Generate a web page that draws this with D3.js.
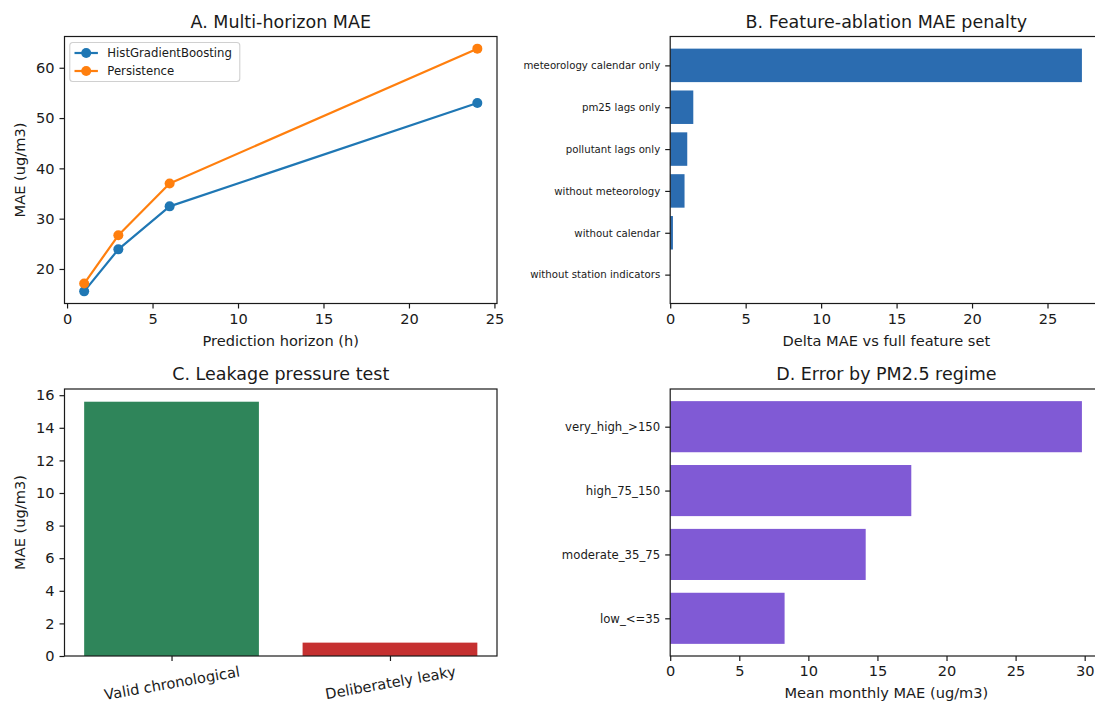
<!DOCTYPE html>
<html>
<head>
<meta charset="utf-8">
<script src="https://cdn.jsdelivr.net/npm/d3@7"></script>
<style>
  html, body { margin: 0; padding: 0; background: #ffffff; overflow: hidden; }
  svg { display: block; font-family: "DejaVu Sans", sans-serif; }
</style>
</head>
<body>
<svg id="fig" width="1095" height="702"></svg>
<script>
// ---- data -------------------------------------------------------------
const horizons = [1, 3, 6, 24];
const maeHGB = [15.55, 23.9, 32.45, 52.98];
const maePersistence = [17.1, 26.7, 37.0, 63.8];
const seriesNames = ["HistGradientBoosting", "Persistence"];

const ablationLabels = [
  "meteorology calendar only",
  "pm25 lags only",
  "pollutant lags only",
  "without meteorology",
  "without calendar",
  "without station indicators"
];
const ablationDelta = [27.28, 1.53, 1.13, 0.95, 0.18, 0.0];

const leakageLabels = ["Valid chronological", "Deliberately leaky"];
const leakageMAE = [15.6, 0.82];

const regimeLabels = ["very_high_>150", "high_75_150", "moderate_35_75", "low_<=35"];
const regimeMAE = [29.8, 17.45, 14.15, 8.28];

const ticksA_x = [0, 5, 10, 15, 20, 25];
const ticksA_y = [20, 30, 40, 50, 60];
const ticksB_x = [0, 5, 10, 15, 20, 25];
const ticksC_y = [0, 2, 4, 6, 8, 10, 12, 14, 16];
const ticksD_x = [0, 5, 10, 15, 20, 25, 30];

// ---- styling ----------------------------------------------------------
const C_BLUE = "#1f77b4", C_ORANGE = "#ff7f0e";
const C_ABL = "#2b6cb0", C_GREEN = "#2f855a", C_RED = "#c53030", C_PURPLE = "#805ad5";
const INK = "#1a1a1a";
const FS_TITLE = 17.5, FS_TICK = 14.6, FS_LABEL = 14.6, FS_SMALL = 10.2, FS_MED = 11.7;
const TICK_LEN = 5, TICK_PAD = 5;
const MARKER_R = 5;

const svg = d3.select("#fig");

// panel boxes
const colL = { left: 64.5, right: 497 };
const colR = { left: 670.2, right: 1102.5 };
const row1 = { top: 36.5, bottom: 303.5 };
const row2 = { top: 389, bottom: 656 };

function pad(lo, hi) { const m = (hi - lo) * 0.05; return [lo - m, hi + m]; }

function styleAxis(g, fs) {
  g.select(".domain").remove();
  g.selectAll(".tick line").attr("stroke", INK).attr("stroke-width", 1.2);
  g.selectAll(".tick text").attr("fill", INK).style("font-size", fs + "px")
    .style("font-family", "DejaVu Sans, sans-serif");
}

function frame(box) {
  svg.append("rect")
    .attr("x", box.left).attr("y", box.top)
    .attr("width", box.right - box.left).attr("height", box.bottom - box.top)
    .attr("fill", "none").attr("stroke", INK).attr("stroke-width", 1.2);
}

function title(box, text) {
  svg.append("text")
    .attr("x", (box.left + box.right) / 2).attr("y", box.top - 8.8)
    .attr("text-anchor", "middle").attr("fill", INK)
    .style("font-size", FS_TITLE + "px").text(text);
}

function xlabel(box, text) {
  svg.append("text")
    .attr("x", (box.left + box.right) / 2).attr("y", box.bottom + 42)
    .attr("text-anchor", "middle").attr("fill", INK)
    .style("font-size", FS_LABEL + "px").text(text);
}

function ylabel(box, text, x) {
  svg.append("text")
    .attr("transform", `translate(${x},${(box.top + box.bottom) / 2}) rotate(-90)`)
    .attr("text-anchor", "middle").attr("fill", INK)
    .style("font-size", FS_LABEL + "px").text(text);
}

// ---- A. Multi-horizon MAE ---------------------------------------------
(function () {
  const box = { ...colL, ...row1 };
  const x = d3.scaleLinear().domain(pad(d3.min(horizons), d3.max(horizons))).range([box.left, box.right]);
  const allY = maeHGB.concat(maePersistence);
  const y = d3.scaleLinear().domain(pad(d3.min(allY), d3.max(allY))).range([box.bottom, box.top]);

  const gx = svg.append("g").attr("transform", `translate(0,${box.bottom})`)
    .call(d3.axisBottom(x).tickValues(ticksA_x).tickFormat(d3.format("d")).tickSize(TICK_LEN).tickPadding(TICK_PAD));
  styleAxis(gx, FS_TICK);
  const gy = svg.append("g").attr("transform", `translate(${box.left},0)`)
    .call(d3.axisLeft(y).tickValues(ticksA_y).tickFormat(d3.format("d")).tickSize(TICK_LEN).tickPadding(TICK_PAD));
  styleAxis(gy, FS_TICK);

  const series = [
    { name: seriesNames[0], values: maeHGB, color: C_BLUE },
    { name: seriesNames[1], values: maePersistence, color: C_ORANGE }
  ];
  const line = d3.line().x((d, i) => x(horizons[i])).y(d => y(d));
  series.forEach(s => {
    const g = svg.append("g");
    g.append("path").attr("d", line(s.values)).attr("fill", "none")
      .attr("stroke", s.color).attr("stroke-width", 2.2).attr("stroke-linejoin", "round");
    g.selectAll("circle").data(s.values).join("circle")
      .attr("cx", (d, i) => x(horizons[i])).attr("cy", d => y(d))
      .attr("r", MARKER_R).attr("fill", s.color);
  });

  frame(box);
  title(box, "A. Multi-horizon MAE");
  xlabel(box, "Prediction horizon (h)");
  ylabel(box, "MAE (ug/m3)", 25);

  // legend
  const lg = svg.append("g").attr("transform", `translate(${box.left + 5.3},${box.top + 6})`);
  lg.append("rect").attr("width", 170).attr("height", 39).attr("rx", 3)
    .attr("fill", "#ffffff").attr("fill-opacity", 0.8)
    .attr("stroke", "#d0d0d0").attr("stroke-width", 1.1);
  series.forEach((s, i) => {
    const cy = 10.5 + i * 18;
    lg.append("line").attr("x1", 4.7).attr("x2", 28.1).attr("y1", cy).attr("y2", cy)
      .attr("stroke", s.color).attr("stroke-width", 2.2);
    lg.append("circle").attr("cx", 16.4).attr("cy", cy).attr("r", MARKER_R).attr("fill", s.color);
    lg.append("text").attr("x", 37.5).attr("y", cy).attr("dy", "0.36em").attr("fill", INK)
      .style("font-size", FS_MED + "px").text(s.name);
  });
})();

// ---- B. Feature-ablation MAE penalty ----------------------------------
(function () {
  const box = { ...colR, ...row1 };
  const n = ablationLabels.length;
  const x = d3.scaleLinear().domain([0, d3.max(ablationDelta) * 1.05]).range([box.left, box.right]);
  const y = d3.scaleLinear().domain(pad(-0.4, n - 1 + 0.4)).range([box.top, box.bottom]);
  const step = y(1) - y(0);

  svg.append("g").selectAll("rect").data(ablationDelta).join("rect")
    .attr("x", x(0)).attr("y", (d, i) => y(i) - 0.4 * step)
    .attr("width", d => x(d) - x(0)).attr("height", 0.8 * step)
    .attr("fill", C_ABL);

  const gx = svg.append("g").attr("transform", `translate(0,${box.bottom})`)
    .call(d3.axisBottom(x).tickValues(ticksB_x).tickFormat(d3.format("d")).tickSize(TICK_LEN).tickPadding(TICK_PAD));
  styleAxis(gx, FS_TICK);
  const gy = svg.append("g").attr("transform", `translate(${box.left},0)`)
    .call(d3.axisLeft(y).tickValues(d3.range(n)).tickFormat(i => ablationLabels[i]).tickSize(TICK_LEN).tickPadding(TICK_PAD));
  styleAxis(gy, FS_SMALL);

  frame(box);
  title(box, "B. Feature-ablation MAE penalty");
  xlabel(box, "Delta MAE vs full feature set");
})();

// ---- C. Leakage pressure test -----------------------------------------
(function () {
  const box = { ...colL, ...row2 };
  const n = leakageLabels.length;
  const x = d3.scaleLinear().domain(pad(-0.4, n - 1 + 0.4)).range([box.left, box.right]);
  const y = d3.scaleLinear().domain([0, d3.max(leakageMAE) * 1.05]).range([box.bottom, box.top]);
  const step = x(1) - x(0);
  const colors = [C_GREEN, C_RED];

  svg.append("g").selectAll("rect").data(leakageMAE).join("rect")
    .attr("x", (d, i) => x(i) - 0.4 * step).attr("y", d => y(d))
    .attr("width", 0.8 * step).attr("height", d => y(0) - y(d))
    .attr("fill", (d, i) => colors[i]);

  const gy = svg.append("g").attr("transform", `translate(${box.left},0)`)
    .call(d3.axisLeft(y).tickValues(ticksC_y).tickFormat(d3.format("d")).tickSize(TICK_LEN).tickPadding(TICK_PAD));
  styleAxis(gy, FS_TICK);
  const gx = svg.append("g").attr("transform", `translate(0,${box.bottom})`)
    .call(d3.axisBottom(x).tickValues(d3.range(n)).tickFormat(i => leakageLabels[i]).tickSize(TICK_LEN).tickPadding(TICK_PAD));
  styleAxis(gx, FS_TICK);
  // slanted category labels, centred under each tick
  const rot = 10;
  gx.selectAll(".tick text")
    .attr("y", 0).attr("dy", "0.35em")
    .attr("transform", function () {
      const w = this.getComputedTextLength();
      const h = FS_TICK * 1.0;
      const r = rot * Math.PI / 180;
      const ext = w * Math.sin(r) + h * Math.cos(r);
      return `translate(0,${TICK_LEN + TICK_PAD - 2 + ext / 2}) rotate(${-rot})`;
    });

  frame(box);
  title(box, "C. Leakage pressure test");
  ylabel(box, "MAE (ug/m3)", 25);
})();

// ---- D. Error by PM2.5 regime -----------------------------------------
(function () {
  const box = { ...colR, ...row2 };
  const n = regimeLabels.length;
  const x = d3.scaleLinear().domain([0, d3.max(regimeMAE) * 1.05]).range([box.left, box.right]);
  const y = d3.scaleLinear().domain(pad(-0.4, n - 1 + 0.4)).range([box.top, box.bottom]);
  const step = y(1) - y(0);

  svg.append("g").selectAll("rect").data(regimeMAE).join("rect")
    .attr("x", x(0)).attr("y", (d, i) => y(i) - 0.4 * step)
    .attr("width", d => x(d) - x(0)).attr("height", 0.8 * step)
    .attr("fill", C_PURPLE);

  const gx = svg.append("g").attr("transform", `translate(0,${box.bottom})`)
    .call(d3.axisBottom(x).tickValues(ticksD_x).tickFormat(d3.format("d")).tickSize(TICK_LEN).tickPadding(TICK_PAD));
  styleAxis(gx, FS_TICK);
  const gy = svg.append("g").attr("transform", `translate(${box.left},0)`)
    .call(d3.axisLeft(y).tickValues(d3.range(n)).tickFormat(i => regimeLabels[i]).tickSize(TICK_LEN).tickPadding(TICK_PAD));
  styleAxis(gy, FS_MED);

  frame(box);
  title(box, "D. Error by PM2.5 regime");
  xlabel(box, "Mean monthly MAE (ug/m3)");
})();
</script>
</body>
</html>
